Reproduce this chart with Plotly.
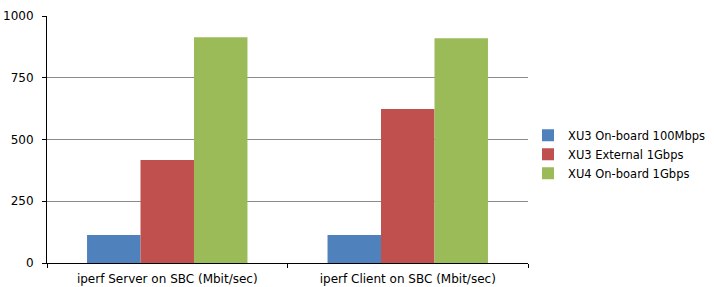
import plotly.graph_objects as go

categories = ["iperf Server on SBC (Mbit/sec)", "iperf Client on SBC (Mbit/sec)"]
series_names = ["XU3 On-board 100Mbps", "XU3 External 1Gbps", "XU4 On-board 1Gbps"]
xu3_onboard = [113, 113]
xu3_external = [417, 623]
xu4_onboard = [914, 910]
colors = ["#4F81BD", "#C0504D", "#9BBB59"]
y_ticks = [0, 250, 500, 750, 1000]

fig = go.Figure()
for name, vals, c in zip(series_names, [xu3_onboard, xu3_external, xu4_onboard], colors):
    fig.add_trace(go.Bar(x=categories, y=vals, name=name, marker=dict(color=c, line=dict(width=0))))

fig.update_layout(
    width=714, height=287,
    barmode="group", bargap=0.333, bargroupgap=0,
    plot_bgcolor="white", paper_bgcolor="white",
    margin=dict(l=47, r=186, t=16, b=24, autoexpand=False),
    font=dict(family="DejaVu Sans", size=12, color="#000000"),
    legend=dict(x=1.0, y=0.44, xanchor="left", yanchor="middle",
                font=dict(size=11.5), itemwidth=30, tracegroupgap=0),
    showlegend=True,
)
fig.update_xaxes(showline=True, linecolor="#000000", linewidth=1, automargin=False,
                 ticks="outside", tickson="boundaries", ticklen=4, tickcolor="#000000",
                 ticklabelstandoff=5, showgrid=False)
fig.update_yaxes(range=[0, 1000], tickvals=y_ticks, showline=True, linecolor="#000000",
                 linewidth=1, ticks="outside", ticklen=4, tickcolor="#000000", automargin=False,
                 ticklabelstandoff=6,
                 showgrid=True, gridcolor="#8c8c8c", gridwidth=1, zeroline=False)
fig.write_html("out.html")
